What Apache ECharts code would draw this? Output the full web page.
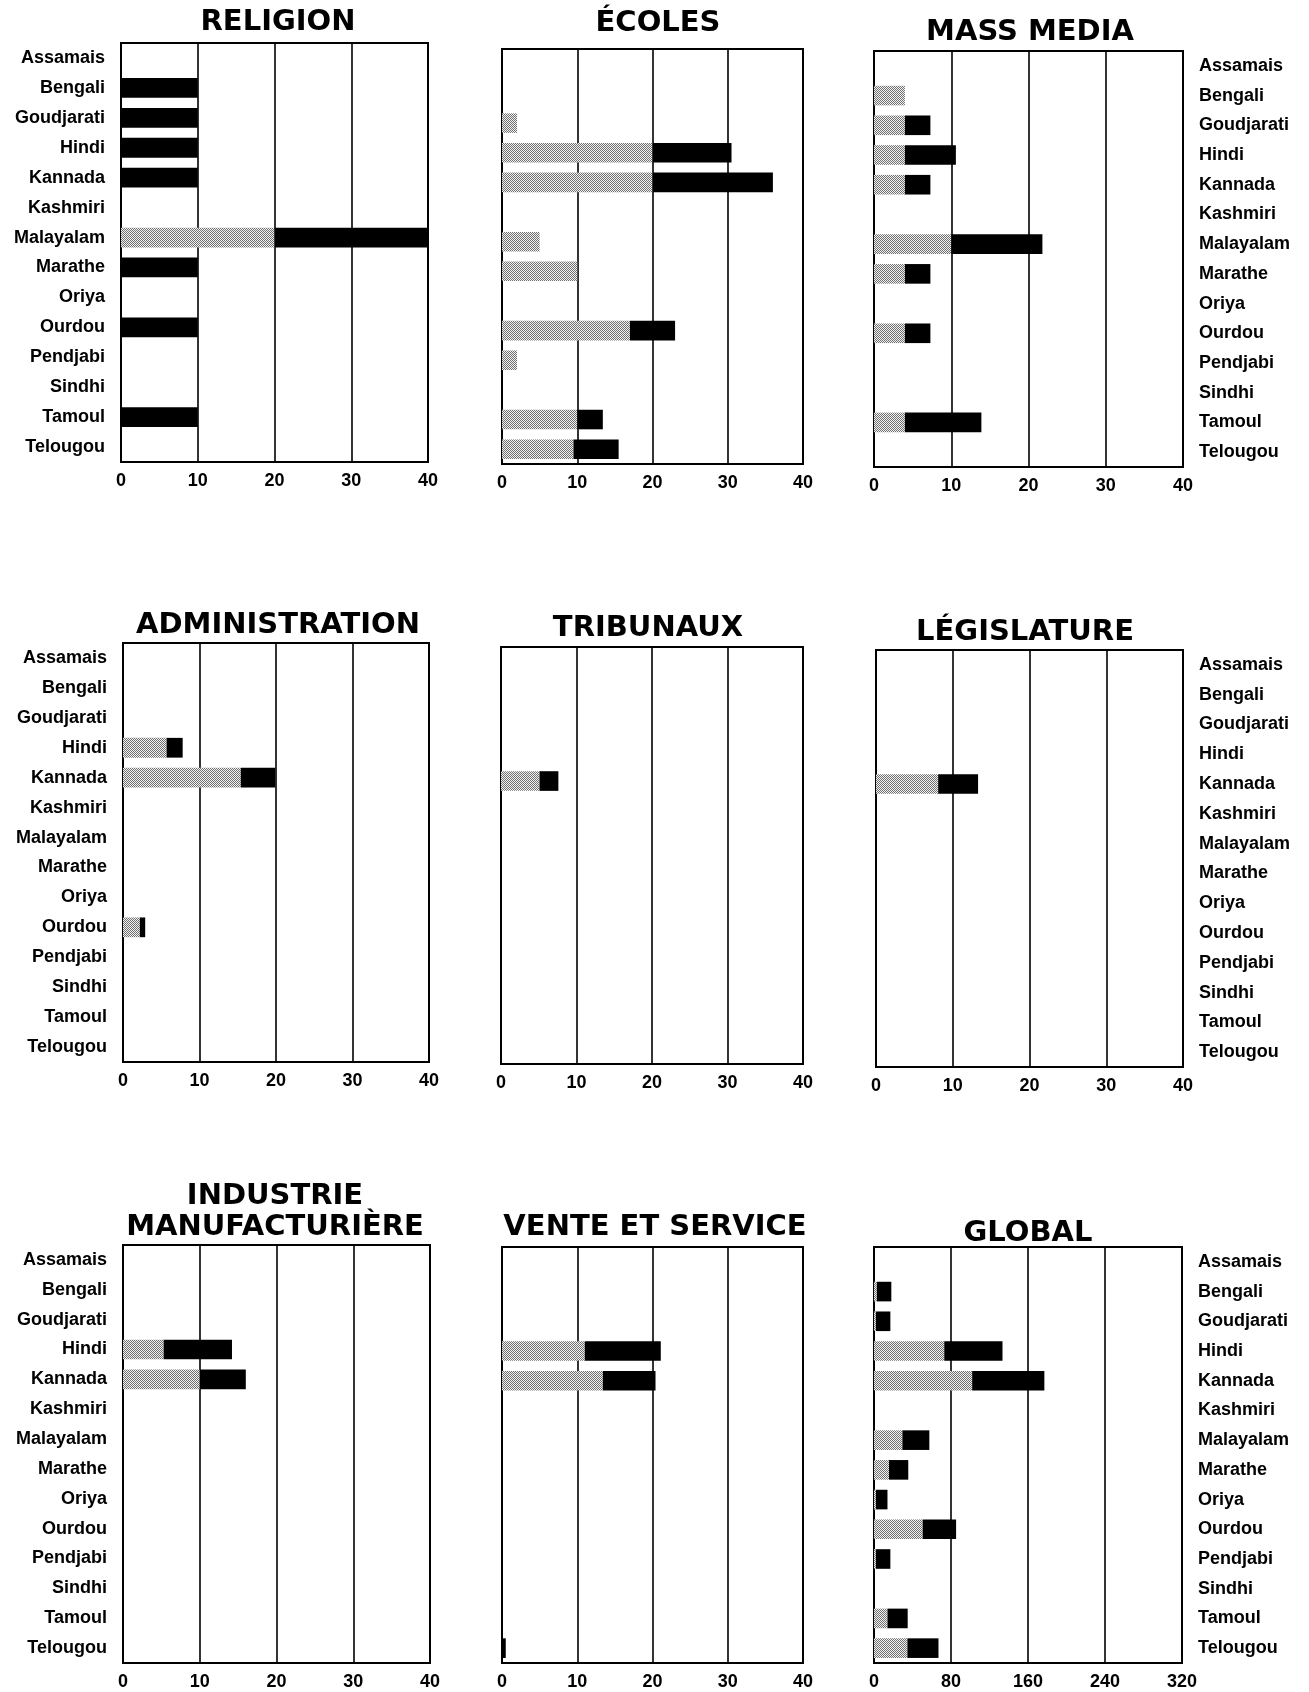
<!DOCTYPE html>
<html><head><meta charset="utf-8">
<script src="https://cdn.jsdelivr.net/npm/echarts@6/dist/echarts.min.js"></script>
<style>html,body{margin:0;padding:0;background:#fff}#c{width:1309px;height:1692px}</style>
</head><body><div id="c"></div>
<script>
const categories = ['Assamais','Bengali','Goudjarati','Hindi','Kannada','Kashmiri','Malayalam','Marathe','Oriya','Ourdou','Pendjabi','Sindhi','Tamoul','Telougou'];
const titles = ['RELIGION','ÉCOLES','MASS MEDIA','ADMINISTRATION','TRIBUNAUX','LÉGISLATURE','INDUSTRIE\nMANUFACTURIÈRE','VENTE ET SERVICE','GLOBAL'];
const ticksStd = [0,10,20,30,40];
const ticksGlobal = [0,80,160,240,320];

// light (dotted) and dark (black) segments, per language
const religionLight = [0,0,0,0,0,0,20,0,0,0,0,0,0,0];
const religionDark  = [0,10,10,10,10,0,20,10,0,10,0,0,10,0];
const ecolesLight   = [0,0,2,20,20,0,5,10,0,17,2,0,10,9.5];
const ecolesDark    = [0,0,0,10.5,16,0,0,0,0,6,0,0,3.4,6];
const mediaLight    = [0,4,4,4,4,0,10,4,0,4,0,0,4,0];
const mediaDark     = [0,0,3.3,6.6,3.3,0,11.8,3.3,0,3.3,0,0,9.9,0];
const adminLight    = [0,0,0,5.7,15.4,0,0,0,0,2.2,0,0,0,0];
const adminDark     = [0,0,0,2.1,4.5,0,0,0,0,0.7,0,0,0,0];
const tribLight     = [0,0,0,0,5.1,0,0,0,0,0,0,0,0,0];
const tribDark      = [0,0,0,0,2.5,0,0,0,0,0,0,0,0,0];
const legisLight    = [0,0,0,0,8.1,0,0,0,0,0,0,0,0,0];
const legisDark     = [0,0,0,0,5.2,0,0,0,0,0,0,0,0,0];
const induLight     = [0,0,0,5.3,10,0,0,0,0,0,0,0,0,0];
const induDark      = [0,0,0,8.9,6,0,0,0,0,0,0,0,0,0];
const venteLight    = [0,0,0,11,13.4,0,0,0,0,0,0,0,0,0];
const venteDark     = [0,0,0,10.1,7,0,0,0,0,0,0,0,0,0.5];
const globalLight   = [0,3,2,73,102,0,29.5,15.6,2,50.6,2,0,14,34.7];
const globalDark    = [0,15,15,60.5,75,0,28,20,12,34.7,15,0,21,32.3];

const lightSets = [religionLight,ecolesLight,mediaLight,adminLight,tribLight,legisLight,induLight,venteLight,globalLight];
const darkSets  = [religionDark,ecolesDark,mediaDark,adminDark,tribDark,legisDark,induDark,venteDark,globalDark];

// layout
const grids = [
  {left:121, top:43, width:307, height:419},
  {left:502, top:49, width:301, height:415},
  {left:874, top:51, width:309, height:416},
  {left:123, top:643, width:306, height:419},
  {left:501, top:647, width:302, height:417},
  {left:876, top:650, width:307, height:417},
  {left:123, top:1245, width:307, height:418},
  {left:502, top:1247, width:301, height:416},
  {left:874, top:1247, width:308, height:416}
];
const titlePos = [[278,22],[658,23],[1030,32],[278,625],[648,628],[1025,632],[275,1212],[655,1227],[1028,1233]];
const labelSide = ['left',null,'right','left',null,'right','left',null,'right'];

// dotted screen pattern (checkerboard of dark dots on white)
const pc = document.createElement('canvas');
pc.width = 2; pc.height = 2;
const g = pc.getContext('2d');
g.fillStyle = '#f2f2f2'; g.fillRect(0,0,2,2);
g.fillStyle = '#707070'; g.fillRect(0,0,1,1); g.fillRect(1,1,1,1);
const lightColor = {image: pc, repeat: 'repeat'};

const FONT = '"Liberation Sans", Arial, sans-serif';
const option = {
  animation: false,
  backgroundColor: '#fff',
  grid: [], xAxis: [], yAxis: [], series: [], graphic: []
};
grids.forEach((gd,i)=>{
  option.grid.push(Object.assign({show:true, borderColor:'#000', borderWidth:2, containLabel:false}, gd));
  const ticks = i===8 ? ticksGlobal : ticksStd;
  option.xAxis.push({
    type:'value', gridIndex:i, min:ticks[0], max:ticks[ticks.length-1], interval:ticks[1]-ticks[0],
    axisLine:{show:true, lineStyle:{color:'#000', width:2}},
    axisTick:{show:false},
    splitLine:{show:true, lineStyle:{color:'#000', width:1.6}},
    axisLabel:{show:true, color:'#000', fontFamily:FONT, fontWeight:'bold', fontSize:18, margin:10,
      formatter: v => ticks.indexOf(v) >= 0 ? String(v) : ''}
  });
  option.yAxis.push({
    type:'category', gridIndex:i, data:categories, inverse:true,
    position: labelSide[i] || 'left',
    axisLine:{show:false}, axisTick:{show:false}, splitLine:{show:false},
    axisLabel:{show: !!labelSide[i], color:'#000', fontFamily:FONT, fontWeight:'bold', fontSize:18,
      margin:16, align: labelSide[i]==='right' ? 'left' : 'right'}
  });
  option.series.push({
    type:'bar', xAxisIndex:i, yAxisIndex:i, stack:'s'+i, data:lightSets[i], barWidth:'66%',
    itemStyle:{color:lightColor}, silent:true
  });
  option.series.push({
    type:'bar', xAxisIndex:i, yAxisIndex:i, stack:'s'+i, data:darkSets[i], barWidth:'66%',
    itemStyle:{color:'#000'}, silent:true
  });
  option.graphic.push({
    type:'text', x:titlePos[i][0], y:titlePos[i][1], z:100,
    style:{text:titles[i], fill:'#000', font:'bold 29px "DejaVu Sans", sans-serif',
      align:'center', verticalAlign:'middle', textAlign:'center', textVerticalAlign:'middle', lineHeight:31}
  });
});
const chart = echarts.init(document.getElementById('c'), null, {renderer:'canvas'});
chart.setOption(option);
</script>
</body></html>
